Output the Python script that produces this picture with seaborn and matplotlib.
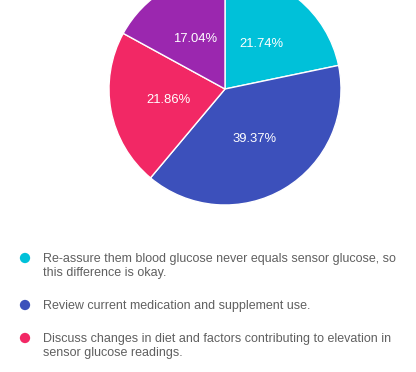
import matplotlib
matplotlib.use('Agg')
import matplotlib.pyplot as plt
import seaborn as sns

# Survey answers and shares (%)
answers = [
    'Re-assure them blood glucose never equals sensor glucose, so\nthis difference is okay.',
    'Review current medication and supplement use.',
    'Discuss changes in diet and factors contributing to elevation in\nsensor glucose readings.',
    'Other',
]
shares = [21.74, 39.37, 21.86, 17.04]
colors = ['#00C1D9', '#3C50BB', '#F22865', '#9B27AF']

sns.set_theme(style='white')
plt.rcParams['font.family'] = ['Liberation Sans', 'DejaVu Sans']

W, H = 416, 372
fig = plt.figure(figsize=(W / 100, H / 100), dpi=100)

# pie placed by pixel centre / radius
cx, cy, r = 225, 89, 116
ax = fig.add_axes([(cx - r) / W, (H - cy - r) / H, 2 * r / W, 2 * r / H])
wedges, texts, autotexts = ax.pie(
    shares, colors=colors, startangle=90, counterclock=False,
    autopct=lambda p: f'{p:.2f}%', pctdistance=0.5,
    wedgeprops=dict(edgecolor='white', linewidth=1),
    textprops=dict(color='white', fontsize=9.4),
)
ax.set_xlim(-1, 1)
ax.set_ylim(-1, 1)
ax.set_aspect('auto')
ax.axis('off')

# legend in pixel coordinates (only first three entries visible)
lax = fig.add_axes([0, 0, 1, 1])
lax.set_xlim(0, W)
lax.set_ylim(H, 0)
lax.axis('off')
y = 258
for label, col in zip(answers[:3], colors[:3]):
    lax.scatter([25], [y], s=55, color=col, edgecolors='none')
    lax.text(43, y - 5, label, fontsize=9, color='#606060', va='top',
             linespacing=1.2, transform=lax.transData)
    y += 14 * (label.count('\n') + 1) + 19

fig.savefig('out.png', dpi=100)
